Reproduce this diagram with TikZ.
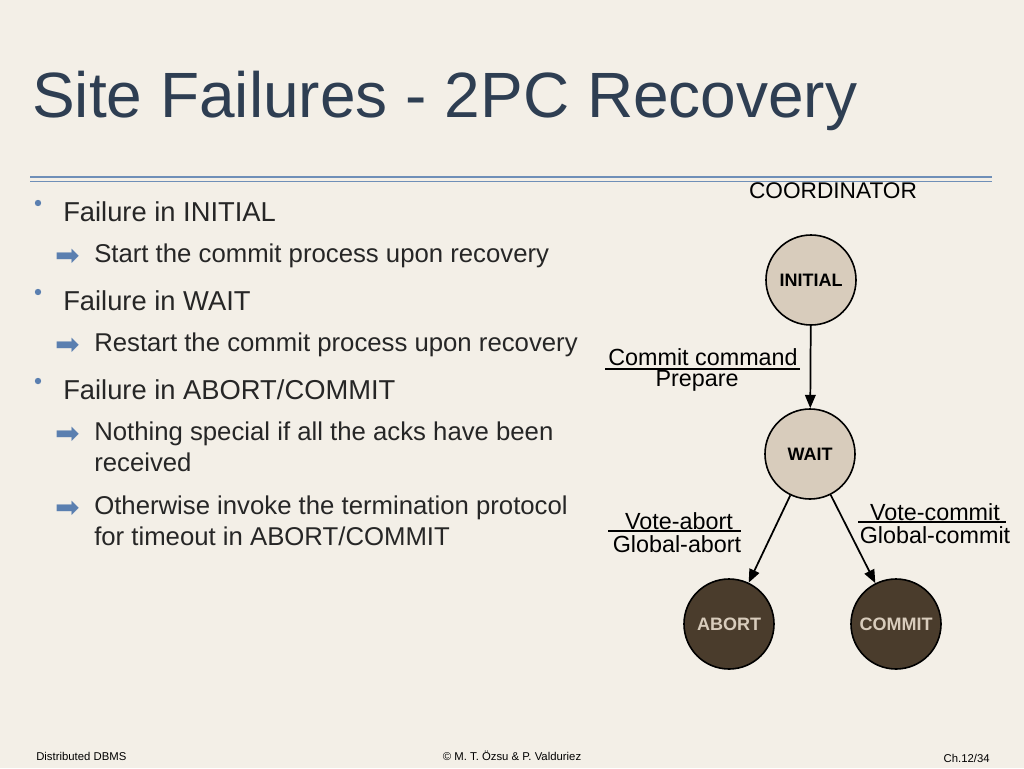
\documentclass[tikz,border=0pt]{standalone}
\usepackage{fontspec}
\setmainfont{Liberation Sans}
\newfontfamily\dv{DejaVu Sans}
\usetikzlibrary{arrows.meta}
\definecolor{bg}{HTML}{F3EFE7}
\definecolor{ttl}{HTML}{2E3E52}
\definecolor{lite}{HTML}{D8CCBC}
\definecolor{dark}{HTML}{4A3C2C}
\definecolor{rule}{HTML}{6F8FB8}
\definecolor{bul}{HTML}{5A7FB0}
\begin{document}
\begin{tikzpicture}[x=0.75pt,y=-0.75pt,
  st/.style={circle,draw=black,line width=1.2pt,minimum size=67.5pt,inner sep=0pt,font=\fontsize{13.5}{14}\selectfont\bfseries},
  lt/.style={st,fill=lite,text=black},
  dk/.style={st,fill=dark,text=lite},
  lbl/.style={font=\fontsize{17.5}{18}\selectfont,inner sep=0pt},
  tr/.style={-{Triangle[length=10pt,width=8pt]},line width=1.3pt},
  b1/.style={anchor=west,font=\fontsize{20.5}{22}\selectfont,inner sep=0pt,text=black!85},
  b2/.style={anchor=north west,font=\fontsize{19.3}{22.8}\selectfont,inner sep=0pt,text=black!85,align=left},
  ar/.style={anchor=west,font=\dv\fontsize{22}{24}\selectfont,inner sep=0pt,text=bul},
  ft/.style={font=\fontsize{8.5}{10}\selectfont,inner sep=0pt}]
\fill[bg] (0,0) rectangle (1024,768);
\useasboundingbox (0,0) rectangle (1024,768);
\node[anchor=west,inner sep=0pt,text=ttl,font=\fontsize{48}{56}\selectfont] (title) at (32,101) {Site Failures - 2PC Recovery};
\draw[rule,line width=1.3pt] (30,177) -- (992,177);
\draw[rule,line width=1.3pt] (30,181.5) -- (992,181.5);
% bullets
\fill[bul] (38,203) circle (3.2);
\fill[bul] (38,292) circle (3.2);
\fill[bul] (38,381) circle (3.2);
\node[b1] (b1) at (63,212) {Failure in INITIAL};
\node[b1] (b2) at (63,301) {Failure in WAIT};
\node[b1] (b3) at (63,390) {Failure in ABORT/COMMIT};
\node[ar] (a1) at (55,257) {➡};
\node[ar] (a2) at (55,346) {➡};
\node[ar] (a3) at (55,435) {➡};
\node[ar] (a4) at (55,509) {➡};
\node[b2] (s1) at (94,244) {Start the commit process upon recovery};
\node[b2] (s2) at (94,333) {Restart the commit process upon recovery};
\node[b2] (s3) at (94,422) {Nothing special if all the acks have been\\received};
\node[b2] (s4) at (94,496) {Otherwise invoke the termination protocol\\for timeout in ABORT/COMMIT};
% diagram
\node[lbl,font=\fontsize{17}{18}\selectfont] (coord) at (833,191) {COORDINATOR};
\node[lt] (ini) at (811,280) {INITIAL};
\node[lt] (wait) at (810,454) {WAIT};
\node[dk] (ab) at (729,624) {ABORT};
\node[dk] (cm) at (896,624) {COMMIT};
\draw[tr] (ini) -- (wait);
\draw[tr] (wait) -- (ab);
\draw[tr] (wait) -- (cm);
\node[lbl] (l1) at (703,357) {Commit command};
\draw[line width=1.1pt] (605,369) -- (800,369);
\node[lbl] (l2) at (697,381) {Prepare};
\node[lbl] (l3) at (679,521) {Vote-abort};
\draw[line width=1.1pt] (608,531) -- (741,531);
\node[lbl] (l4) at (677,544) {Global-abort};
\node[lbl] (l5) at (935,512) {Vote-commit};
\draw[line width=1.1pt] (858,522) -- (1006,522);
\node[lbl] (l6) at (935,535) {Global-commit};
% footer
\node[ft,anchor=west] (f1) at (36,756) {Distributed DBMS};
\node[ft] (f2) at (512,756) {© M. T. Özsu \& P. Valduriez};
\node[ft,anchor=east] (f3) at (990,758) {Ch.12/34};
\end{tikzpicture}
\end{document}
